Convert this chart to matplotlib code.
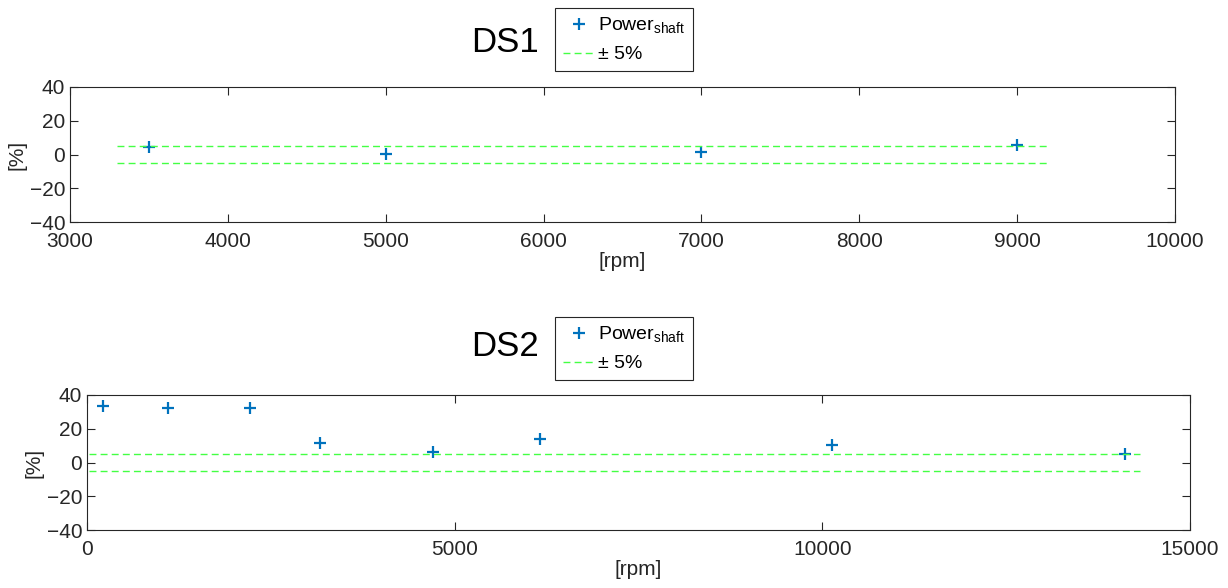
import matplotlib
matplotlib.use("Agg")
import matplotlib.pyplot as plt

plt.rcParams['font.family'] = ['Liberation Sans', 'DejaVu Sans']

# DS1 data
ds1_rpm = [3500, 5000, 7000, 9000]
ds1_err = [4.5, 0.5, 1.5, 5.5]
ds1_xticks = [3000, 4000, 5000, 6000, 7000, 8000, 9000, 10000]

# DS2 data
ds2_rpm = [224, 1100, 2210, 3175, 4710, 6165, 10130, 14120]
ds2_err = [33.5, 32.3, 32.3, 11.6, 6.5, 14.0, 10.6, 4.9]
ds2_xticks = [0, 5000, 10000, 15000]

band = 5
yticks = [-40, -20, 0, 20, 40]

blue = '#0072BD'
green = '#44ff44'
edge = '#262626'


def draw_panel(fig, rect, rpm, err, xlim, xticks, title, title_pos, leg_pos):
    ax = fig.add_axes(rect)
    ax.plot(rpm, err, '+', color=blue, markersize=9, markeredgewidth=1.6,
            label='Power$_{\\mathregular{shaft}}$')
    # +-5% band drawn a bit past the first and last point
    lo = min(rpm) - 200
    hi = max(rpm) + 200
    ax.plot([lo, hi], [band, band], '--', color=green, linewidth=1, dashes=(5, 3),
            label='± 5%')
    ax.plot([lo, hi], [-band, -band], '--', color=green, linewidth=1, dashes=(5, 3))
    ax.set_xlim(xlim)
    ax.set_ylim(-40, 40)
    ax.set_xticks(xticks)
    ax.set_yticks(yticks)
    ax.tick_params(direction='in', top=True, right=True, length=6, width=0.8,
                   colors=edge, labelsize=15, labelcolor='#262626')
    ax.tick_params(axis='x', pad=7)
    for s in ax.spines.values():
        s.set_color(edge)
        s.set_linewidth(0.8)
    ax.set_xlabel('[rpm]', fontsize=15, color='#262626', labelpad=1)
    ax.set_ylabel('[%]', fontsize=15, color='#262626', labelpad=2)
    fig.text(title_pos[0], title_pos[1], title, fontsize=25, ha='center', va='center')
    handles, labels = ax.get_legend_handles_labels()
    leg = fig.legend(handles[:2], labels[:2], loc='upper left', bbox_to_anchor=leg_pos,
                     fontsize=14, fancybox=False, framealpha=1, edgecolor=edge,
                     handlelength=1.7, handletextpad=0.1, borderpad=0.4,
                     labelspacing=0.5, borderaxespad=0)
    leg.get_frame().set_linewidth(0.8)
    return ax


W, H = 1228, 588
fig = plt.figure(figsize=(W / 100, H / 100), dpi=100)

draw_panel(fig, [70 / W, 1 - 222 / H, 1105 / W, 135 / H], ds1_rpm, ds1_err,
           (3000, 10000), ds1_xticks, 'DS1', (505 / W, 1 - 42 / H), (555 / W, 1 - 8 / H))
draw_panel(fig, [87 / W, 1 - 530 / H, 1103 / W, 135 / H], ds2_rpm, ds2_err,
           (0, 15000), ds2_xticks, 'DS2', (505 / W, 1 - 346 / H), (555 / W, 1 - 317 / H))

fig.savefig('out.png', dpi=100)
